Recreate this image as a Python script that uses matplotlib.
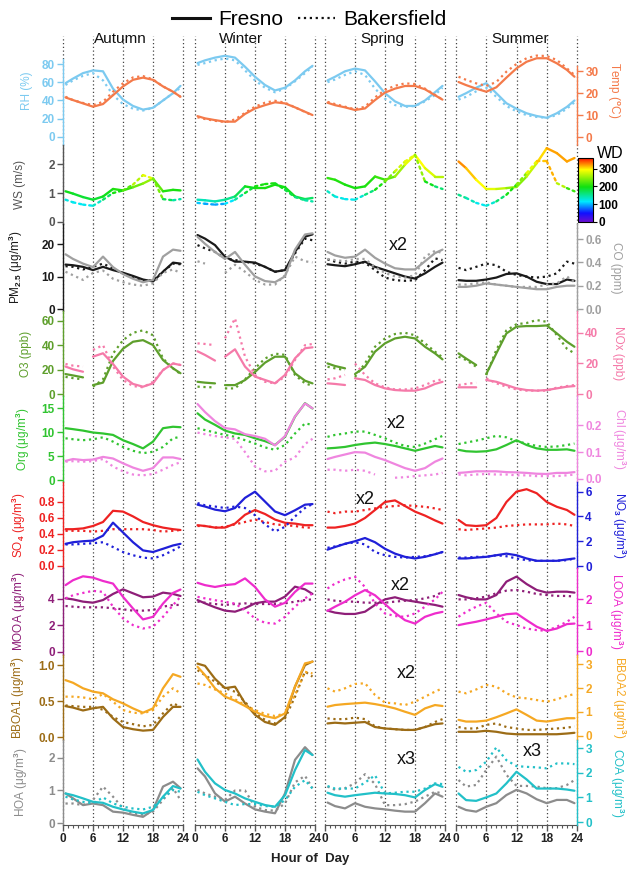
"""Diurnal profiles at Fresno and Bakersfield by season (meteorology, gases, aerosol species)."""
import numpy as np
import matplotlib
matplotlib.use("Agg")
import matplotlib.pyplot as plt
from matplotlib.collections import LineCollection
from matplotlib.colors import Normalize, LinearSegmentedColormap
from matplotlib.cm import ScalarMappable
from matplotlib.lines import Line2D
from matplotlib.ticker import FormatStrFormatter, MultipleLocator

plt.rcParams['font.family'] = ['Liberation Sans', 'DejaVu Sans']
plt.rcParams['font.weight'] = 'bold'
plt.rcParams['mathtext.fontset'] = 'custom'
plt.rcParams['mathtext.rm'] = 'Liberation Sans'
plt.rcParams['mathtext.bf'] = 'Liberation Sans:bold'
plt.rcParams['mathtext.it'] = 'Liberation Sans:italic'

SEASONS = ['Autumn', 'Winter', 'Spring', 'Summer']
HOURS = [0.5, 2, 4, 6, 8, 10, 12, 14, 16, 18, 20, 22, 23.5]
# O3 / NOx have a missing hour around 5 h
HOURS_GAP = [0.5, 2, 4, 5, 6, 8, 10, 12, 14, 16, 18, 20, 22, 23.5]
N = None

# each list: [autumn, winter, spring, summer]; F = Fresno, B = Bakersfield
RH_F = [[59, 64, 70, 73, 72, 53, 41, 34, 30, 32, 40, 48, 56],
        [81, 84, 87, 89, 87, 77, 66, 57, 51, 54, 62, 72, 78],
        [62, 66, 72, 75, 73, 61, 48, 39, 34, 34, 40, 49, 56],
        [44, 48, 54, 59, 48, 37, 31, 26, 23, 21, 26, 33, 40]]
RH_B = [[57, 62, 67, 70, 62, 46, 36, 31, 29, 32, 40, 48, 54],
        [79, 81, 84, 86, 84, 73, 62, 54, 49, 53, 61, 70, 77],
        [60, 63, 68, 72, 68, 53, 42, 35, 33, 34, 39, 46, 54],
        [41, 44, 50, 54, 44, 34, 28, 24, 22, 21, 24, 31, 38]]
TEMP_F = [[18, 16.8, 15.3, 13.8, 15, 19, 23, 26, 27, 26, 23, 20.6, 18.3],
          [9.5, 8.5, 7.7, 7.0, 7.0, 10.5, 13, 14.5, 15.8, 15.3, 13.5, 11.5, 10],
          [15.6, 14.5, 13.5, 12.3, 13, 16.8, 20.2, 22, 23.2, 23.2, 21.7, 19, 17],
          [25, 23.6, 22, 20.6, 22.6, 27, 31.2, 34.2, 35.8, 35.8, 33.5, 30.5, 27.4]]
TEMP_B = [[18.3, 16.8, 15.5, 14.5, 16, 20.6, 24.4, 27.1, 27.7, 26.2, 23, 20.6, 18.3],
          [9, 8.2, 7.4, 6.8, 8, 11, 13.8, 15.6, 16.5, 15.6, 13.5, 11.4, 9.8],
          [16, 15, 13.8, 12.6, 13.8, 18, 21.4, 23.3, 24.4, 24.1, 22, 19.2, 17],
          [27.4, 26, 24.4, 23.2, 25, 29.7, 33.2, 35.8, 37, 36.8, 35, 31.2, 28.2]]

WS_F = [[1.06, 0.98, 0.86, 0.77, 0.88, 1.14, 1.09, 1.20, 1.33, 1.50, 1.06, 1.11, 1.09],
        [0.77, 0.75, 0.71, 0.77, 0.88, 1.23, 1.17, 1.17, 1.29, 1.20, 0.88, 0.79, 0.83],
        [1.52, 1.46, 1.29, 1.17, 1.23, 1.57, 1.46, 1.57, 1.98, 2.32, 1.86, 1.57, 1.57],
        [2.09, 1.86, 1.46, 1.14, 1.14, 1.17, 1.21, 1.57, 2.03, 2.55, 2.38, 2.09, 2.21]]
WS_B = [[0.77, 0.68, 0.60, 0.56, 0.77, 1.0, 1.09, 1.29, 1.62, 1.50, 0.79, 0.75, 0.79],
        [0.66, 0.63, 0.60, 0.63, 0.77, 1.0, 1.23, 1.31, 1.34, 1.11, 0.86, 0.75, 0.71],
        [1.06, 0.88, 0.79, 0.77, 0.94, 1.11, 1.40, 1.75, 2.09, 2.32, 1.40, 1.23, 1.14],
        [0.94, 0.83, 0.66, 0.56, 0.71, 0.94, 1.29, 1.69, 2.10, 2.10, 1.34, 1.17, 1.06]]
WD_F = [[200, 190, 185, 185, 190, 200, 210, 220, 250, 250, 210, 200, 200],
        [140, 140, 140, 150, 160, 190, 200, 200, 200, 200, 190, 170, 170],
        [210, 210, 200, 200, 200, 210, 220, 240, 270, 300, 290, 270, 260],
        [330, 320, 300, 290, 280, 260, 240, 250, 290, 320, 320, 320, 320]]
WD_B = [[130, 120, 120, 120, 150, 190, 210, 240, 290, 280, 200, 150, 140],
        [110, 100, 90, 100, 130, 170, 200, 200, 200, 190, 170, 150, 140],
        [140, 130, 120, 120, 140, 180, 220, 260, 290, 280, 220, 170, 160],
        [160, 150, 130, 110, 150, 180, 220, 270, 300, 320, 310, 220, 210]]

PM_F = [[13.7, 13.5, 13, 12, 13, 12, 11.2, 10.2, 9.1, 8.5, 11.5, 14.3, 14],
        [22.8, 21.7, 19.7, 16.1, 14.6, 14.6, 14.3, 13, 11.5, 12, 17.6, 22.3, 23],
        [13.8, 13.5, 13.2, 13.8, 14.6, 13, 12, 11, 10, 9.4, 11, 13, 14.3],
        [8.9, 8.7, 8.7, 9.1, 9.7, 10.8, 11, 10, 8.4, 7.7, 7.7, 9.1, 8.7]]
PM_B = [[13.2, 13, 12.2, 13, 14, 12.5, 11, 9.7, 8.7, 8.9, 11.5, 14, 13.8],
        [19.7, 18.7, 17.6, 15.6, 15.1, 14.6, 14, 13, 11.5, 12, 17.1, 21.7, 21.2],
        [15.3, 14.6, 14, 14.6, 14.3, 12, 9.7, 8.9, 8.7, 8.9, 12, 15.6, 15.1],
        [12.7, 12, 13, 14, 13.5, 11.5, 10.5, 10, 9.7, 10, 11, 14.6, 14]]
CO_F = [[0.47, 0.43, 0.39, 0.36, 0.45, 0.36, 0.30, 0.26, 0.23, 0.25, 0.45, 0.51, 0.50],
        [0.62, 0.56, 0.49, 0.43, 0.49, 0.38, 0.28, 0.24, 0.23, 0.28, 0.51, 0.64, 0.65],
        [0.49, 0.46, 0.44, 0.45, 0.51, 0.44, 0.39, 0.35, 0.34, 0.34, 0.41, 0.48, 0.51],
        [0.19, 0.19, 0.20, 0.22, 0.21, 0.20, 0.19, 0.18, 0.17, 0.17, 0.19, 0.20, 0.20]]
CO_B = [[0.32, 0.29, 0.25, 0.31, 0.33, 0.26, 0.23, 0.21, 0.20, 0.22, 0.31, 0.34, 0.31],
        [0.41, 0.39, N, 0.31, 0.38, 0.32, 0.25, 0.21, 0.21, 0.29, 0.45, 0.41, 0.40],
        [0.43, 0.42, 0.41, 0.43, 0.43, 0.36, 0.31, 0.28, 0.27, 0.29, 0.45, 0.50, 0.48],
        [0.21, 0.21, 0.22, 0.23, 0.21, 0.20, 0.19, 0.19, 0.19, 0.21, 0.22, 0.28, 0.23]]

O3_F = [[16.3, 15.2, 13.6, N, 7.3, 9.3, 27, 37, 42.7, 44, 40, 27.8, 21, 17],
        [10, 9.3, 8.7, N, 7.3, 7.3, 11.4, 18, 25.6, 30.5, 30.5, 16.9, 10.9, 8.7],
        [25, 22.9, 21, N, 16.3, 22.3, 34.6, 41.4, 45.4, 46.8, 45.4, 38.6, 33.2, 28.3],
        [33.2, 29, 23.7, N, 16.3, 33.2, 49.5, 55, 55.5, 55.5, 56, 49.5, 42.7, 38.6]]
O3_B = [[14, 13, 12, N, 6, 12, 33, 44, 50, 52, 48, 29, 21, 16.3],
        [6, 5.7, 5.4, N, 4.6, 4.6, 12, 21, 29, 33, 32, 15.5, 8.7, 6.8],
        [22.3, 21, 19.6, N, 14, 25, 38.6, 45.4, 49, 50, 48, 41.4, 34.6, 30],
        [30.5, 27.8, 22.3, N, 15.5, 36, 52, 57, 58, 60.4, 59, 48, 37, 33.2]]
NOX_F = [[18, 16.2, 14.6, N, 24.5, 26.7, 19.7, 11.4, 6.6, 4.8, 7, 15.7, 20, 19],
         [28, 25.6, 21.9, N, 24.5, 29.3, 18, 11.4, 9.2, 7, 12.5, 23.4, 30, 30.6],
         [7, 6.6, 5.9, N, 10.3, 9.2, 5.9, 3.7, 2.6, 2.2, 2.2, 3.7, 6.6, 8],
         [4.4, 4.4, 4.4, N, 9.2, 8, 5.9, 3.7, 2.6, 2.2, 2.6, 3.7, 4.8, 5.2]]
NOX_B = [[19.7, 18.6, 18, N, 28.9, 32, 18, 9.2, 5.2, 4.4, 8, 15.7, 20, 19],
         [33.2, 32.8, 32, N, 36.5, 49.6, 24.5, 12.5, 8, 7, 11.4, 22.3, 32, 32.8],
         [9.6, 10.3, 12.5, N, 20, 12.5, 7, 4.4, 3, 3, 3.7, 5.9, 8.7, 9.6],
         [5.9, 6.6, 7.4, N, 10.3, 7, 4.8, 3, 2.2, 2.2, 2.2, 4.2, 5.2, 5.9]]

ORG_F = [[10.8, 10.6, 10.3, 9.9, 9.7, 9.4, 8.3, 7.5, 6.6, 8.0, 10.8, 11.1, 11],
         [13.9, 12.6, 11.5, 10.3, 9.7, 9.4, 8.7, 8.1, 7.3, 9, 13.2, 16, 14.9],
         [6.6, 6.7, 6.9, 7.3, 7.6, 7.8, 7.5, 7.1, 6.6, 6.1, 6.6, 7.1, 6.8],
         [6.3, 6.0, 5.9, 6.0, 6.4, 7.3, 8.3, 7.3, 6.6, 6.3, 6.3, 6.4, 6.1]]
ORG_B = [[8.7, 8.5, 8.3, 8.5, 8.9, 8.0, 6.9, 6.1, 5.6, 5.9, 6.9, 8.7, 9],
         [10.8, 10.4, 9.9, 9.4, 9.0, 8.3, 7.6, 6.8, 6.3, 7.3, 9.7, 11.8, 11.5],
         [9, 9.4, 9.7, 10.1, 10.1, 9.4, 8.7, 7.8, 7.1, 6.9, 7.6, 8.5, 9.2],
         [7.5, 7.8, 8.2, 8.7, 9.2, 8.9, 8.1, 7.6, 7.1, 6.9, 7.0, 7.3, 7.6]]
CHL_F = [[0.067, 0.074, 0.070, 0.072, 0.082, 0.076, 0.058, 0.042, 0.030, 0.040, 0.080, 0.080, 0.074],
         [0.28, 0.25, 0.216, 0.19, 0.185, 0.167, 0.16, 0.15, 0.125, 0.16, 0.234, 0.282, 0.264],
         [0.074, 0.082, 0.091, 0.10, 0.098, 0.082, 0.07, 0.055, 0.04, 0.03, 0.04, 0.064, 0.076],
         [0.022, 0.024, 0.028, 0.028, 0.028, 0.025, 0.024, 0.022, 0.019, 0.018, 0.022, 0.022, 0.025]]
CHL_B = [[0.064, 0.066, 0.064, 0.066, 0.074, 0.046, 0.028, 0.016, 0.013, 0.018, 0.034, 0.052, 0.062],
         [0.173, 0.167, 0.16, 0.155, 0.149, 0.10, 0.046, 0.028, 0.03, 0.064, 0.08, 0.13, 0.15],
         [0.034, 0.034, 0.03, 0.034, 0.03, 0.016, N, 0.004, 0.006, 0.01, 0.013, 0.016, 0.022],
         [0.016, 0.013, 0.016, 0.018, 0.016, 0.016, 0.013, 0.013, 0.01, 0.01, 0.01, 0.013, 0.016]]

SO4_F = [[0.46, 0.46, 0.47, 0.50, 0.55, 0.69, 0.68, 0.62, 0.55, 0.51, 0.48, 0.46, 0.45],
         [0.51, 0.50, 0.48, 0.48, 0.53, 0.64, 0.70, 0.65, 0.58, 0.54, 0.53, 0.51, 0.51],
         [0.48, 0.48, 0.50, 0.53, 0.60, 0.70, 0.80, 0.82, 0.75, 0.68, 0.63, 0.57, 0.53],
         [0.575, 0.51, 0.50, 0.51, 0.60, 0.80, 0.93, 0.96, 0.91, 0.80, 0.74, 0.70, 0.64]]
SO4_B = [[0.44, 0.44, 0.44, 0.43, 0.44, 0.46, 0.46, 0.46, 0.46, 0.45, 0.43, 0.44, 0.45],
         [0.50, 0.50, 0.48, 0.49, 0.52, 0.55, 0.58, 0.55, 0.52, 0.51, 0.50, 0.48, 0.48],
         [0.68, 0.66, 0.68, 0.68, 0.70, 0.72, 0.74, 0.75, 0.76, 0.75, 0.74, 0.72, 0.70],
         [0.46, 0.45, 0.46, 0.47, 0.48, 0.50, 0.51, 0.52, 0.52, 0.52, 0.53, 0.52, 0.50]]
NO3_F = [[1.79, 1.92, 2.0, 2.05, 2.45, 3.5, 2.71, 1.92, 1.26, 1.13, 1.39, 1.66, 1.79],
         [4.95, 4.8, 4.55, 4.42, 4.68, 5.5, 6.0, 5.2, 4.4, 4.1, 4.5, 4.95, 5.0],
         [1.32, 1.53, 1.79, 2.0, 2.26, 1.92, 1.39, 1.0, 0.74, 0.61, 0.74, 0.95, 1.13],
         [0.61, 0.61, 0.68, 0.74, 0.87, 1.0, 0.87, 0.61, 0.42, 0.42, 0.42, 0.53, 0.61]]
NO3_B = [[1.74, 1.74, 1.79, 1.84, 1.92, 1.53, 1.13, 0.87, 0.68, 0.61, 0.87, 1.26, 1.58],
         [5.08, 4.9, 4.8, 4.68, 4.8, 4.68, 4.1, 3.37, 2.79, 3.16, 4.0, 4.68, 5.0],
         [1.47, 1.58, 1.79, 1.92, 1.74, 1.13, 0.87, 0.74, 0.68, 0.74, 0.79, 0.95, 1.13],
         [0.68, 0.68, 0.74, 0.74, 0.87, 0.79, 0.61, 0.47, 0.42, 0.42, 0.42, 0.47, 0.61]]

MOOA_F = [[4.05, 3.97, 3.8, 3.72, 3.92, 4.38, 4.73, 4.43, 4.13, 4.18, 4.48, 4.38, 4.23],
          [3.92, 3.67, 3.37, 3.12, 3.04, 3.3, 3.67, 3.8, 3.8, 4.18, 4.93, 4.73, 4.38],
          [3.12, 2.97, 2.87, 2.87, 3.04, 3.55, 3.97, 4.13, 3.92, 3.8, 3.67, 3.55, 3.42],
          [4.3, 4.13, 3.97, 3.97, 4.3, 5.31, 5.69, 5.13, 4.68, 4.48, 4.55, 4.55, 4.48]]
MOOA_B = [[3.47, 3.42, 3.37, 3.37, 3.37, 3.3, 3.22, 3.12, 3.12, 3.17, 3.42, 3.55, 3.55],
          [3.8, 3.72, 3.62, 3.55, 3.62, 3.67, 3.62, 3.62, 3.62, 3.67, 3.8, 3.92, 3.97],
          [3.97, 3.87, 3.8, 3.8, 3.72, 3.72, 3.72, 3.8, 3.87, 3.92, 4.05, 4.23, 4.55],
          [3.97, 3.97, 4.05, 4.18, 4.43, 4.63, 4.68, 4.55, 4.38, 4.3, 4.23, 4.23, 4.18]]
LOOA_F = [[2.54, 2.73, 2.88, 2.83, 2.70, 2.6, 2.09, 1.64, 1.22, 1.32, 1.83, 2.24, 2.37],
          [2.63, 2.54, 2.47, 2.54, 2.58, 2.8, 2.47, 1.99, 1.71, 1.86, 2.28, 2.6, 2.6],
          [1.55, 1.71, 1.9, 2.15, 2.35, 2.15, 1.81, 1.47, 1.19, 1.06, 1.32, 1.45, 1.51],
          [1.0, 1.06, 1.13, 1.22, 1.32, 1.42, 1.45, 1.19, 0.94, 0.78, 0.87, 1.04, 1.06]]
LOOA_B = [[2.03, 2.15, 2.24, 2.32, 2.28, 1.71, 1.26, 1.0, 0.87, 0.94, 1.32, 1.77, 2.09],
          [2.09, 2.03, 1.96, 1.9, 1.83, 1.58, 1.26, 1.09, 1.06, 1.32, 1.71, 2.03, 2.22],
          [2.41, 2.6, 2.76, 2.86, 2.47, 1.83, 1.45, 1.35, 1.32, 1.45, 1.71, 1.99, 2.28],
          [1.32, 1.51, 1.71, 1.86, 1.45, 1.13, 1.0, 0.87, 0.81, 0.78, 0.94, 1.13, 1.32]]

BBOA1_F = [[0.43, 0.41, 0.37, 0.40, 0.42, 0.26, 0.14, 0.11, 0.09, 0.10, 0.28, 0.42, 0.42],
           [1.02, 0.99, 0.81, 0.68, 0.70, 0.47, 0.31, 0.21, 0.17, 0.28, 0.70, 1.0, 1.05],
           [0.19, 0.20, 0.19, 0.20, 0.21, 0.14, 0.12, 0.11, 0.10, 0.10, 0.14, 0.18, 0.19],
           [0.074, 0.074, 0.074, 0.088, 0.074, 0.05, 0.04, 0.04, 0.04, 0.04, 0.04, 0.05, 0.06]]
BBOA1_B = [[0.44, 0.43, 0.42, 0.42, 0.38, 0.28, 0.21, 0.18, 0.15, 0.17, 0.33, 0.47, 0.42],
           [0.93, 0.86, 0.77, 0.68, 0.63, 0.49, 0.33, 0.24, 0.19, 0.26, 0.56, 0.91, 0.84],
           [0.26, 0.25, 0.25, 0.27, 0.25, 0.15, 0.12, 0.11, 0.10, 0.10, 0.14, 0.21, 0.25],
           [0.14, 0.12, 0.12, 0.17, 0.19, 0.14, 0.12, 0.10, 0.10, 0.11, 0.12, 0.13, 0.15]]
BBOA2_F = [[2.33, 2.22, 1.99, 1.85, 1.78, 1.53, 1.36, 1.15, 0.97, 1.15, 1.99, 2.58, 2.47],
           [2.89, 2.54, 1.99, 1.64, 1.47, 1.25, 1.01, 0.83, 0.74, 0.94, 2.06, 3.03, 3.1],
           [1.22, 1.29, 1.33, 1.36, 1.39, 1.33, 1.25, 1.15, 1.01, 0.88, 1.15, 1.29, 1.25],
           [0.67, 0.60, 0.60, 0.64, 0.78, 0.94, 1.11, 0.88, 0.64, 0.60, 0.67, 0.74, 0.74]]
BBOA2_B = [[1.64, 1.64, 1.61, 1.53, 1.75, 1.43, 1.08, 0.97, 0.94, 1.08, 1.64, 1.99, 1.78],
           [2.19, 2.13, 1.94, 1.78, 1.53, 1.29, 1.08, 0.92, 0.83, 0.94, 1.71, 2.68, 2.61],
           [1.99, 1.85, 1.99, 2.17, 2.2, 1.71, 1.39, 1.36, 1.29, 1.43, 1.64, 1.85, 1.99],
           [1.85, 1.78, 1.94, 2.13, 2.06, 1.78, 1.61, 1.57, 1.5, 1.43, 1.53, 1.67, 1.75]]

HOA_F = [[0.91, 0.76, 0.55, 0.6, 0.55, 0.35, 0.32, 0.25, 0.19, 0.4, 1.12, 1.27, 1.07],
         [1.68, 1.43, 0.91, 0.66, 0.81, 0.6, 0.42, 0.35, 0.30, 0.91, 1.94, 2.33, 2.09],
         [0.63, 0.52, 0.45, 0.61, 0.5, 0.45, 0.42, 0.38, 0.35, 0.35, 0.61, 0.91, 0.81],
         [0.5, 0.4, 0.35, 0.5, 0.61, 0.86, 1.02, 0.91, 0.73, 0.61, 0.71, 0.71, 0.61]]
HOA_B = [[0.6, 0.6, 0.55, 0.71, 1.12, 0.81, 0.45, 0.30, 0.25, 0.35, 0.71, 1.07, 0.71],
         [1.02, 0.91, 0.81, 0.71, 1.0, 1.0, 0.50, 0.40, 0.38, 0.6, 1.25, 1.45, 1.07],
         [1.12, 1.02, 1.07, 1.22, 1.5, 1.2, 0.55, 0.55, 0.58, 0.66, 0.81, 0.96, 0.91],
         [1.32, 1.12, 1.17, 1.63, 2.04, 1.48, 1.14, 1.14, 1.12, 1.07, 1.07, 1.17, 1.32]]
COA_F = [[1.16, 1.09, 0.96, 0.82, 0.78, 0.62, 0.51, 0.42, 0.35, 0.49, 1.03, 1.46, 1.36],
         [2.54, 2.04, 1.57, 1.3, 1.16, 0.96, 0.82, 0.69, 0.62, 1.09, 2.11, 2.92, 2.72],
         [1.19, 1.09, 1.03, 1.09, 1.14, 1.19, 1.16, 1.14, 1.09, 1.0, 1.3, 1.54, 1.43],
         [1.16, 0.89, 0.86, 1.0, 1.16, 1.57, 2.04, 1.73, 1.36, 1.36, 1.36, 1.32, 1.27]]
COA_B = [[1.03, 0.92, 0.82, 0.76, 1.0, 0.76, 0.62, 0.55, 0.51, 0.62, 0.96, 1.3, 1.23],
         [1.23, 1.09, 0.96, 0.82, 0.69, 0.73, 0.73, 0.65, 0.62, 0.89, 1.43, 1.70, 1.36],
         [1.46, 1.36, 1.36, 1.36, 1.6, 1.9, 1.16, 1.19, 1.23, 1.23, 1.36, 1.57, 1.54],
         [2.24, 2.04, 2.11, 2.45, 3.03, 2.51, 2.27, 2.24, 2.22, 2.18, 2.38, 2.38, 2.35]]

# row layout: (label, fresno, bakersfield, color, ylim, ticks, fmt, label_x)
ROWS = [
    dict(hours=HOURS,
         left=('RH (%)', RH_F, RH_B, '#7ccaf0', (-8.8, 110.7), [0, 20, 40, 60, 80], '%d', -0.25),
         right=(r'Temp ($^{\mathbf{o}}$C)', TEMP_F, TEMP_B, '#f47a4a', (-3.6, 45.9), [0, 10, 20, 30], '%d', 1.23)),
    dict(hours=HOURS,
         left=('WS (m/s)', WS_F, WS_B, '#555555', (-0.07, 2.66), [0, 1, 2], '%d', -0.31),
         right=None),
    dict(hours=HOURS,
         left=(r'PM$_{\mathbf{2.5}}$ (μg/m$^{\mathbf{3}}$)', PM_F, PM_B, '#1a1a1a', (-0.6, 26.2), [0, 10, 20], '%d', -0.32),
         right=('CO (ppm)', CO_F, CO_B, '#a0a0a0', (-0.017, 0.73), [0, 0.2, 0.4, 0.6], '%.1f', 1.27)),
    dict(hours=HOURS_GAP,
         left=('O3 (ppb)', O3_F, O3_B, '#5e9f2c', (-1.6, 67.8), [0, 20, 40, 60], '%d', -0.26),
         right=('NOx (ppb)', NOX_F, NOX_B, '#f57aa9', (-1.3, 54.4), [0, 20, 40], '%d', 1.29)),
    dict(hours=HOURS,
         left=(r'Org (μg/m$^{\mathbf{3}}$)', ORG_F, ORG_B, '#30c430', (-0.4, 17.5), [0, 5, 10, 15], '%d', -0.26),
         right=(r'Chl (μg/m$^{\mathbf{3}}$)', CHL_F, CHL_B, '#ef86df', (-0.012, 0.31), [0, 0.1, 0.2], '%.1f', 1.27)),
    dict(hours=HOURS,
         left=(r'SO$_{\mathbf{4}}$ (μg/m$^{\mathbf{3}}$)', SO4_F, SO4_B, '#ee2222', (-0.025, 1.05), [0, 0.2, 0.4, 0.6, 0.8], '%.1f', -0.29),
         right=(r'NO$_{\mathbf{3}}$ (μg/m$^{\mathbf{3}}$)', NO3_F, NO3_B, '#2020d8', (-0.16, 6.78), [0, 2, 4, 6], '%d', 1.27)),
    dict(hours=HOURS,
         left=(r'MOOA (μg/m$^{\mathbf{3}}$)', MOOA_F, MOOA_B, '#8e1e78', (-0.23, 6.34), [0, 2, 4], '%d', -0.29),
         right=(r'LOOA (μg/m$^{\mathbf{3}}$)', LOOA_F, LOOA_B, '#ee2ccc', (-0.15, 3.2), [0, 1, 2], '%d', 1.25)),
    dict(hours=HOURS,
         left=(r'BBOA1 (μg/m$^{\mathbf{3}}$)', BBOA1_F, BBOA1_B, '#9c6c16', (-0.04, 1.14), [0, 0.5, 1.0], '%.1f', -0.30),
         right=(r'BBOA2 (μg/m$^{\mathbf{3}}$)', BBOA2_F, BBOA2_B, '#f5a823', (-0.17, 3.38), [0, 1, 2, 3], '%d', 1.27)),
    dict(hours=HOURS,
         left=(r'HOA (μg/m$^{\mathbf{3}}$)', HOA_F, HOA_B, '#8c8c8c', (-0.06, 2.55), [0, 1, 2], '%d', -0.275),
         right=(r'COA (μg/m$^{\mathbf{3}}$)', COA_F, COA_B, '#22c0c8', (-0.12, 3.33), [0, 1, 2, 3], '%d', 1.26)),
]

SCALE_NOTES = [('x2', 398, 245), ('x2', 396, 423), ('x2', 365, 500), ('x2', 400, 585),
               ('x2', 406, 674), ('x3', 406, 760), ('x3', 532, 752)]
TITLE_X = [0.475, 0.38, 0.475, 0.53]

FIG_W, FIG_H = 628, 869
COL_X = [63, 195, 325, 456]
COL_W = [120, 120, 120, 121]
ROW_Y = [36, 145, 224, 311, 396, 482, 568, 655, 740, 825]
WD_NORM = Normalize(0, 360)
# purple -> blue -> cyan -> green -> yellow -> red, like the wind-direction bar
WD_CMAP = LinearSegmentedColormap.from_list(
    'wd', [(0.0, '#6a0fd0'), (0.14, '#1010ff'), (0.32, '#00e8ff'),
           (0.55, '#10e010'), (0.82, '#ffff00'), (1.0, '#ff1000')])


def px_rect(x0, y0, x1, y1):
    return [x0 / FIG_W, 1 - y1 / FIG_H, (x1 - x0) / FIG_W, (y1 - y0) / FIG_H]


def as_array(vals):
    return np.array([np.nan if v is None else v for v in vals], dtype=float)


def style_yaxis(ax, side, color, ticks, fmt):
    ax.set_yticks(ticks)
    ax.yaxis.set_major_formatter(FormatStrFormatter(fmt))
    ax.tick_params(axis='y', which='both', direction='out', length=4, width=1,
                   color=color, labelcolor=color, labelsize=8.5, pad=2,
                   left=(side == 'left'), labelleft=(side == 'left'),
                   right=(side == 'right'), labelright=(side == 'right'))
    ax.spines[side].set_color(color)
    ax.spines[side].set_linewidth(1)


def wind_line(ax, hours, ws, wd, style):
    pts = np.column_stack([hours, ws])
    segs = np.stack([pts[:-1], pts[1:]], axis=1)
    wd = np.asarray(wd, dtype=float)
    lc = LineCollection(segs, cmap=WD_CMAP, norm=WD_NORM, linewidths=1.7,
                        linestyles=style, capstyle='round')
    lc.set_array((wd[:-1] + wd[1:]) / 2)
    ax.add_collection(lc)


fig = plt.figure(figsize=(FIG_W / 100, FIG_H / 100), dpi=100)

for r, row in enumerate(ROWS):
    hours = row['hours']
    for c in range(4):
        ax = fig.add_axes(px_rect(COL_X[c], ROW_Y[r], COL_X[c] + COL_W[c], ROW_Y[r + 1]))
        ax.patch.set_alpha(0)
        ax.set_xlim(0, 24)
        for h in [0, 6, 12, 18, 24]:
            ax.axvline(h, color='#444444', lw=0.9, ls=(0, (1, 2)), zorder=0, clip_on=False)
        for s in ['top', 'right', 'bottom', 'left']:
            ax.spines[s].set_visible(False)

        lab, fres, bak, col, ylim, ticks, fmt, lx = row['left']
        ax.set_ylim(*ylim)
        if r == 1:
            wind_line(ax, hours, fres[c], WD_F[c], 'solid')
            wind_line(ax, hours, bak[c], WD_B[c], 'dotted')
        else:
            ax.plot(hours, as_array(fres[c]), color=col, lw=1.6, solid_capstyle='round')
            ax.plot(hours, as_array(bak[c]), color=col, lw=1.6, ls=':')
        if c == 0:
            ax.spines['left'].set_visible(True)
            style_yaxis(ax, 'left', col, ticks, fmt)
            ax.set_ylabel(lab, color=col, fontsize=8.5)
            ax.yaxis.set_label_coords(lx, 0.5)
            if r == 0:
                ax.spines['left'].set_bounds(ylim[0], 85)
        else:
            ax.set_yticks([])

        if r == len(ROWS) - 1:
            ax.spines['bottom'].set_visible(True)
            ax.spines['bottom'].set_color('#555555')
            ax.set_xticks([0, 6, 12, 18, 24])
            ax.xaxis.set_minor_locator(MultipleLocator(1))
            ax.tick_params(axis='x', which='major', direction='out', length=4, width=1,
                           color='#555555', labelsize=8.5, labelcolor='#222222', pad=2)
            ax.tick_params(axis='x', which='minor', direction='out', length=2.5, width=0.8,
                           color='#555555')
        else:
            ax.set_xticks([])

        if row['right'] is not None:
            lab2, fres2, bak2, col2, ylim2, ticks2, fmt2, rx = row['right']
            ax2 = ax.twinx()
            for s in ['top', 'right', 'bottom', 'left']:
                ax2.spines[s].set_visible(False)
            ax2.set_ylim(*ylim2)
            ax2.plot(hours, as_array(fres2[c]), color=col2, lw=1.6, solid_capstyle='round')
            ax2.plot(hours, as_array(bak2[c]), color=col2, lw=1.6, ls=':')
            if c == 3:
                ax2.spines['right'].set_visible(True)
                style_yaxis(ax2, 'right', col2, ticks2, fmt2)
                ax2.set_ylabel(lab2, color=col2, fontsize=8.5, rotation=270, va='bottom')
                ax2.yaxis.set_label_coords(rx, 0.5)
                if r == 0:
                    ax2.spines['right'].set_bounds(ylim2[0], 32.5)
            else:
                ax2.set_yticks([])

# season titles
for c, name in enumerate(SEASONS):
    fig.text((COL_X[c] + TITLE_X[c] * COL_W[c]) / FIG_W, 1 - 39 / FIG_H, name,
             ha='center', va='center', fontsize=11, fontweight='normal', color='#111111')

# scale factor notes
for txt, x, y in SCALE_NOTES:
    fig.text(x / FIG_W, 1 - y / FIG_H, txt, ha='center', va='center',
             fontsize=13, fontweight='normal', color='#111111')

# wind direction colorbar
cax = fig.add_axes(px_rect(578, 158, 593, 222))
cb = fig.colorbar(ScalarMappable(norm=WD_NORM, cmap=WD_CMAP), cax=cax, ticks=[0, 100, 200, 300])
cb.outline.set_linewidth(0.8)
cax.tick_params(labelsize=8.5, length=3, width=0.8, pad=1)
fig.text(610 / FIG_W, 1 - 153 / FIG_H, 'WD', ha='center', va='center',
         fontsize=11.5, fontweight='normal')

# legend
handles = [Line2D([], [], color='#111111', lw=2.2),
           Line2D([], [], color='#111111', lw=1.6, ls=':')]
fig.legend(handles, ['Fresno', 'Bakersfield'], loc='upper center', ncol=2,
           bbox_to_anchor=(0.493, 1.0), frameon=False, handlelength=1.8,
           handletextpad=0.4, columnspacing=0.7, borderaxespad=0.1,
           prop={'size': 15, 'weight': 'normal'})

fig.text(310 / FIG_W, 1 - 859 / FIG_H, 'Hour of  Day', ha='center', va='center',
         fontsize=9.5, color='#222222')

fig.savefig('out.png', dpi=100)
